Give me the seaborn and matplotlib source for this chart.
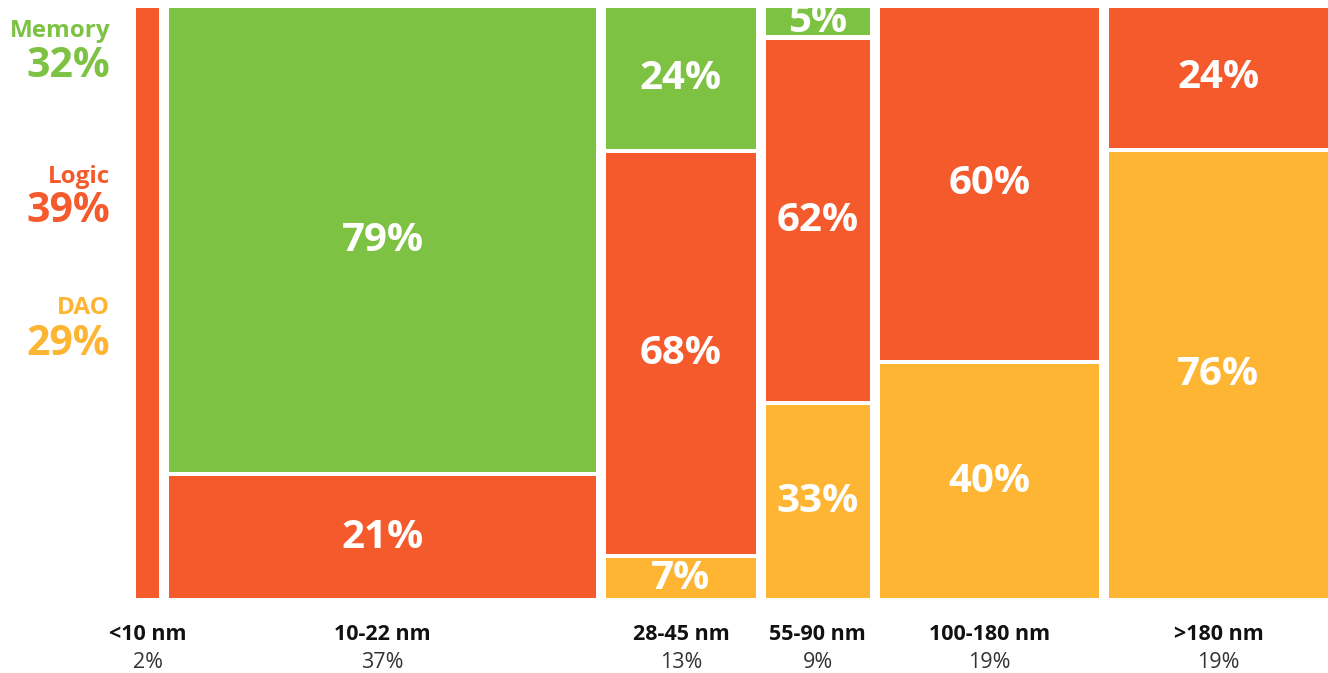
import matplotlib
matplotlib.use("Agg")
import matplotlib.pyplot as plt
import seaborn as sns
import numpy as np

# ---- data ----
nodes = ["<10 nm", "10-22 nm", "28-45 nm", "55-90 nm", "100-180 nm", ">180 nm"]
node_share = [2, 37, 13, 9, 19, 19]
segments = ["DAO", "Logic", "Memory"]          # stacking order bottom -> top
dao    = [0, 0, 7, 33, 40, 76]
logic  = [100, 21, 68, 62, 60, 24]
memory = [0, 79, 24, 5, 0, 0]
totals_labels = ["Memory", "Logic", "DAO"]
totals_values = [32, 39, 29]

colors = {"Memory": "#7DC243", "Logic": "#F55A2D", "DAO": "#FDB533"}

sns.set_theme(style="white")
plt.rcParams['font.family'] = ['Open Sans', 'DejaVu Sans']

W, H = 1328, 673
fig = plt.figure(figsize=(W / 100, H / 100), dpi=100)
ax = fig.add_axes([136 / W, (H - 598) / H, 1192 / W, 590 / H])

gap_x = 0.86
gap_y = 0.7
lefts = []
x = 0
for w in node_share:
    lefts.append(x)
    x += w + gap_x
total_w = x - gap_x
ax.set_xlim(0, total_w)
ax.set_ylim(0, 100)
ax.axis("off")

seg_values = {"DAO": dao, "Logic": logic, "Memory": memory}
for i, (l, w) in enumerate(zip(lefts, node_share)):
    col_total = sum(seg_values[s][i] for s in segments)
    cum = 0
    first = True
    for s in segments:
        v = seg_values[s][i]
        if v <= 0:
            continue
        h = v / col_total * 100
        b = cum + (gap_y / 2 if not first else 0)
        top = cum + h - (gap_y / 2 if cum + h < 99.9 else 0)
        bars = ax.bar(l, top - b, width=w, bottom=b, align="edge",
                      color=colors[s], linewidth=0)
        rect = bars.patches[0]
        if w > 5:
            t = ax.text(l + w / 2, (b + top) / 2, f"{v}%", ha="center",
                        va="center", color="white", fontsize=29,
                        fontweight="bold")
            t.set_clip_path(rect)
        cum += h
        first = False

    ax.text(l + w / 2, -7.1, nodes[i], ha="center", va="baseline",
            fontsize=15.5, fontweight="bold", color="#111111", clip_on=False)
    ax.text(l + w / 2, -11.8, f"{node_share[i]}%", ha="center",
            va="baseline", fontsize=15.5, color="#333333", clip_on=False)

# left legend totals
legend_y = [(37, 77), (183, 222), (314, 355)]
for name, val, (y1, y2) in zip(totals_labels, totals_values, legend_y):
    fig.text(110 / W, 1 - y1 / H, name, ha="right", va="baseline",
             fontsize=17.5, fontweight="bold", color=colors[name])
    fig.text(110 / W, 1 - y2 / H, f"{val}%", ha="right", va="baseline",
             fontsize=29.5, fontweight="bold", color=colors[name])

fig.savefig("out.png", dpi=100, facecolor="white")
